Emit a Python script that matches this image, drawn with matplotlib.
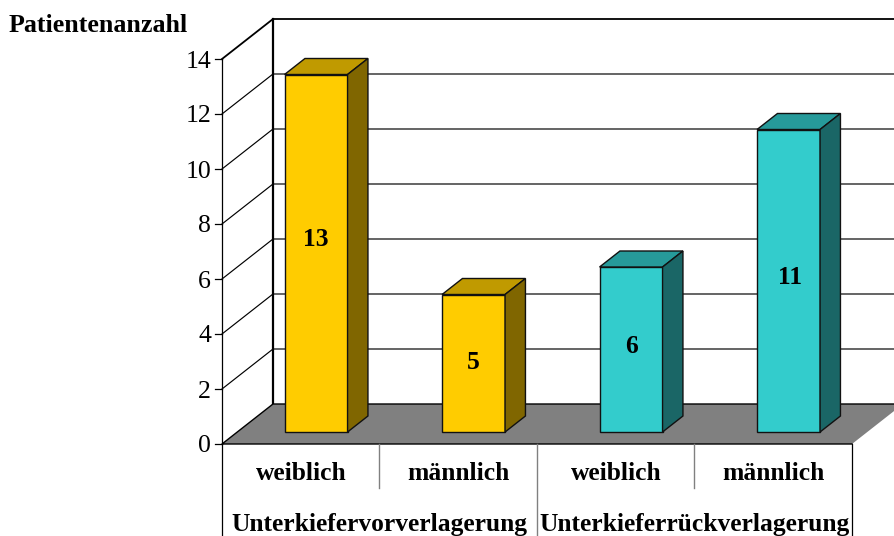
import matplotlib
matplotlib.use("Agg")
import matplotlib.pyplot as plt
from matplotlib.patches import Polygon

plt.rcParams['font.family'] = ['Liberation Serif', 'DejaVu Serif']

# Chart values
sexes = ["weiblich", "männlich", "weiblich", "männlich"]
groups = ["Unterkiefervorverlagerung", "Unterkieferrückverlagerung"]
counts = [13, 5, 6, 11]
yticks = [0, 2, 4, 6, 8, 10, 12, 14]

# Hand placed shift of the value labels, in pixels
label_dx = [0, 0, 0, 2]
label_dy = [14, 1, 3, 3]

# Pseudo 3D setup: x in category slots, y in patient counts
SLOT_PX = 157.5
UNIT_PX = 27.5
DX = 51 / SLOT_PX   # full depth shift in x
DY = 40 / UNIT_PX   # full depth shift in y
BAR_W = 0.4
BAR_D0, BAR_D1 = 0.3, 0.7

YELLOW = ("#ffcc00", "#c09a00", "#806600")
TEAL = ("#33cccc", "#269a9a", "#1a6666")
bar_colors = [YELLOW, YELLOW, TEAL, TEAL]


def proj(x, y, d=0.0):
    return (x + d * DX, y + d * DY)


W, H = 895, 536
fig = plt.figure(figsize=(W / 100, H / 100), dpi=100)
ax = fig.add_axes([222 / W, (H - 444) / H, 630 / W, 385 / H])
ax.set_xlim(0, 4)
ax.set_ylim(0, 14)
ax.axis("off")
n = len(counts)
right_edge = (W - 222) / SLOT_PX

# Walls and grid lines
ymax = yticks[-1]
for v in yticks[1:]:
    lw = 1.3 if v == ymax else 0.85
    ax.plot(*zip(proj(0, v), proj(0, v, 1), (right_edge, proj(0, v, 1)[1])),
            color="black", lw=lw, clip_on=False, zorder=1, solid_joinstyle="miter")
ax.plot(*zip(proj(0, 0, 1), proj(0, ymax, 1)), color="black", lw=1.6, clip_on=False, zorder=1)
ax.plot([0, 0], [0, ymax], color="black", lw=0.9, clip_on=False, zorder=2)

# Floor
floor = Polygon([proj(0, 0), proj(0, 0, 1), proj(n, 0, 1), proj(n, 0)],
                closed=True, facecolor="#808080", edgecolor="none", clip_on=False, zorder=2)
ax.add_patch(floor)
ax.plot(*zip(proj(n, 0), proj(0, 0), proj(0, 0, 1), (right_edge, proj(0, 0, 1)[1])),
        color="black", lw=1.0, clip_on=False, zorder=2)

# Y ticks
for v in yticks:
    ax.plot([-7 / SLOT_PX, 0], [v, v], color="black", lw=0.9, clip_on=False, zorder=2)
    ax.text(-11 / SLOT_PX, v - 2.5 / UNIT_PX, str(v), ha="right", va="center",
            fontsize=18.5, clip_on=False)

# Bars
for i, (c, cols) in enumerate(zip(counts, bar_colors)):
    x0 = i + 0.5 - BAR_W / 2
    x1 = x0 + BAR_W
    front = [proj(x0, 0, BAR_D0), proj(x1, 0, BAR_D0), proj(x1, c, BAR_D0), proj(x0, c, BAR_D0)]
    top = [proj(x0, c, BAR_D0), proj(x1, c, BAR_D0), proj(x1, c, BAR_D1), proj(x0, c, BAR_D1)]
    side = [proj(x1, 0, BAR_D0), proj(x1, 0, BAR_D1), proj(x1, c, BAR_D1), proj(x1, c, BAR_D0)]
    for pts, col in zip((front, top, side), cols):
        ax.add_patch(Polygon(pts, closed=True, facecolor=col, edgecolor="#111111",
                             lw=1.0, clip_on=False, zorder=3, joinstyle="miter"))
    cx, cy = proj(i + 0.5, c / 2, BAR_D0)
    ax.text(cx + label_dx[i] / SLOT_PX, cy + label_dy[i] / UNIT_PX, str(c), ha="center",
            va="center", fontsize=18.4, fontweight="bold", zorder=4, clip_on=False)

# Category table under the floor
bottom = -(H - 444) / UNIT_PX
mid = -44 / UNIT_PX
ax.plot([0, 0], [0, bottom], color="black", lw=0.9, clip_on=False)
ax.plot([n, n], [0, bottom], color="black", lw=0.9, clip_on=False)
ax.plot([2, 2], [0, bottom], color="#808080", lw=1.0, clip_on=False)
ax.plot([1, 1], [0, mid], color="#808080", lw=1.0, clip_on=False)
ax.plot([3, 3], [0, mid], color="#808080", lw=1.0, clip_on=False)
for i, s in enumerate(sexes):
    ax.text(i + 0.5, -30 / UNIT_PX, s, ha="center", va="center", fontsize=18.4,
            fontweight="bold", clip_on=False)
for i, g in enumerate(groups):
    ax.text(2 * i + 1, -80 / UNIT_PX, g, ha="center", va="center", fontsize=18.4,
            fontweight="bold", clip_on=False)

fig.text(9 / W, 1 - 25 / H, "Patientenanzahl", ha="left", va="center", fontsize=18.7,
         fontweight="bold")

fig.savefig("out.png", dpi=100)
